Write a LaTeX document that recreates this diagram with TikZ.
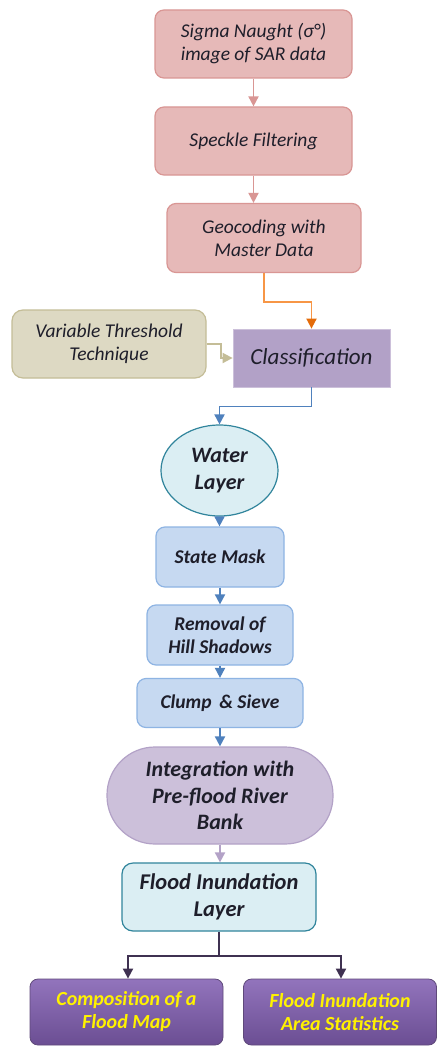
\documentclass[tikz,border=0pt]{standalone}
\usepackage{fontspec}
\setmainfont{Carlito}
\usetikzlibrary{arrows.meta,positioning,calc,shapes.geometric}
\definecolor{pinkfill}{HTML}{E6B9B8}
\definecolor{pinkline}{HTML}{D99694}
\definecolor{tanfill}{HTML}{DDD9C3}
\definecolor{tanline}{HTML}{C4BD97}
\definecolor{clsfill}{HTML}{B2A1C7}
\definecolor{clsline}{HTML}{CCC0DA}
\definecolor{aquafill}{HTML}{DBEEF3}
\definecolor{aqualine}{HTML}{31859C}
\definecolor{bluefill}{HTML}{C6D9F1}
\definecolor{blueline}{HTML}{8EB4E3}
\definecolor{bluearrow}{HTML}{4F81BD}
\definecolor{lavfill}{HTML}{CCC0DA}
\definecolor{lavline}{HTML}{B3A2C7}
\definecolor{orangearrow}{HTML}{F79646}
\definecolor{orangetip}{HTML}{E46C0A}
\definecolor{darkpurple}{HTML}{3F3151}
\definecolor{purptop}{HTML}{9274BC}
\definecolor{purpbot}{HTML}{6B4E93}
\definecolor{purpline}{HTML}{5F497A}
\definecolor{txt}{HTML}{1E1E2A}
\begin{document}
\begin{tikzpicture}[x=1pt,y=-1pt,
  base/.style={align=center,inner sep=2pt,text=txt,line width=1.2pt},
  pinkbox/.style={base,draw=pinkline,fill=pinkfill,rounded corners=9pt,font=\fontsize{19.5}{23}\selectfont\itshape},
  bluebox/.style={base,draw=blueline,fill=bluefill,rounded corners=9pt,font=\fontsize{19.5}{23}\selectfont\bfseries\itshape},
  botbox/.style={base,draw=purpline,line width=0.8pt,top color=purptop,bottom color=purpbot,rounded corners=8pt,text=yellow,font=\fontsize{20}{23}\selectfont\bfseries\itshape,minimum width=193pt,minimum height=66pt},
  tip/.style={-{Triangle[length=10pt,width=10pt]}},
  pinkarrow/.style={tip,draw=pinkline,line width=1.8pt},
  bluearr/.style={tip,draw=bluearrow,line width=1.8pt},
]
\useasboundingbox (0,0) rectangle (438,1046);
\fill[white] (0,0) rectangle (438,1046);

\node[pinkbox,minimum width=197pt,minimum height=68pt] (s1) at (253.5,44) {Sigma Naught (σ°)\\image of SAR data};
\node[pinkbox,minimum width=197pt,minimum height=68pt] (s2) at (253.5,141) {Speckle Filtering};
\node[pinkbox,minimum width=194pt,minimum height=69pt] (s3) at (264,238) {Geocoding with\\Master Data};
\node[base,draw=tanline,fill=tanfill,rounded corners=11pt,minimum width=194pt,minimum height=68pt,font=\fontsize{19.5}{23}\selectfont\itshape] (vt) at (109,344) {Variable Threshold\\Technique};
\node[base,draw=clsline,fill=clsfill,line width=0.8pt,minimum width=157pt,minimum height=58pt,font=\fontsize{23}{27}\selectfont\itshape] (cls) at (311.5,358) {Classification};
\node[base,draw=aqualine,fill=aquafill,ellipse,minimum width=117pt,minimum height=91pt,inner sep=0pt,font=\fontsize{22}{27}\selectfont\bfseries\itshape] (water) at (219.5,470.5) {Water\\Layer};
\node[bluebox,minimum width=128pt,minimum height=60pt] (state) at (220,557) {State Mask};
\node[bluebox,minimum width=146pt,minimum height=60pt] (hill) at (220,635) {Removal of\\Hill Shadows};
\node[bluebox,minimum width=166pt,minimum height=49pt] (clump) at (220,703) {Clump \,\& Sieve};
\node[base,draw=lavline,fill=lavfill,rounded corners=48pt,minimum width=226pt,minimum height=97pt,font=\fontsize{22}{26.5}\selectfont\bfseries\itshape] (integ) at (220,795.5) {Integration with\\Pre-flood River\\Bank};
\node[base,draw=aqualine,fill=aquafill,rounded corners=11pt,minimum width=194pt,minimum height=68pt,font=\fontsize{22.5}{27}\selectfont\bfseries\itshape] (fil) at (219,897) {Flood Inundation\\Layer};
\node[botbox] (b1) at (126.5,1012) {Composition of a\\Flood Map};
\node[botbox] (b2) at (340,1012) {Flood Inundation\\Area Statistics};

\draw[pinkarrow] (s1.south) -- (s2.north);
\draw[pinkarrow] (s2.south) -- (s2.south |- s3.north);
\draw[-{Triangle[length=10pt,width=10pt,color=orangetip]},draw=orangearrow,line width=1.8pt] (s3.south) -- ++(0,29) -| (cls.north);
\draw[tip,draw=tanline,line width=1.8pt] (vt.east) -- ++(14,0) |- (cls.west);
\draw[bluearr] (cls.south) -- ++(0,19) -| (water.north);
\draw[bluearr] (water.south) -- (water.south |- state.north);
\draw[bluearr] (state.south) -- (hill.north);
\draw[bluearr] (hill.south) -- (clump.north);
\draw[bluearr] (clump.south) -- (integ.north);
\draw[tip,draw=lavline,line width=1.8pt] (integ.south) -- (integ.south |- fil.north);
\draw[darkpurple,line width=1.8pt] (fil.south) -- ++(0,24) coordinate (j);
\draw[tip,draw=darkpurple,line width=1.8pt] (j) -| ([xshift=1.5pt]b1.north);
\draw[tip,draw=darkpurple,line width=1.8pt] (j) -| ([xshift=1pt]b2.north);
\end{tikzpicture}
\end{document}
